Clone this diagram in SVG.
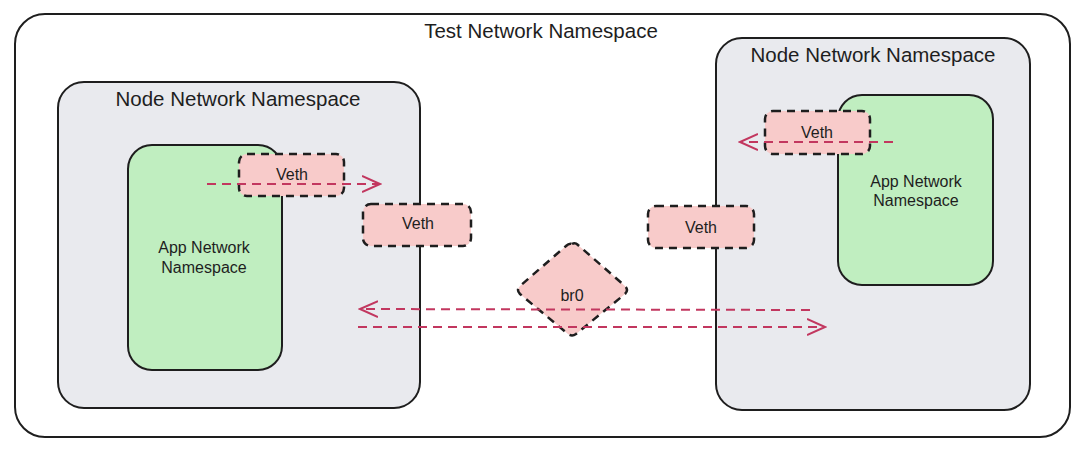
<svg xmlns="http://www.w3.org/2000/svg" width="1080" height="451" viewBox="0 0 1080 451">
<defs>
<style>
.box{stroke:#1e1e1e;stroke-width:2;}
.ns{fill:#e9eaee;}
.app{fill:#c0eec0;}
.veth{fill:#f8cbca;stroke:#1e1e1e;stroke-width:2.5;stroke-dasharray:8 6;}
.t{font-family:"Liberation Sans",Arial,sans-serif;fill:#1e1e1e;text-anchor:middle;}
.big{font-size:20.5px;}
.mid{font-size:16px;}
.conn{fill:none;stroke:#c2375f;stroke-width:2;stroke-dasharray:9 6;}
</style>
<marker id="ah" viewBox="0 0 20 20" refX="18" refY="10" markerWidth="20" markerHeight="20" markerUnits="userSpaceOnUse" orient="auto">
<path d="M0,2 L18,10 L0,18" fill="none" stroke="#c2375f" stroke-width="2" stroke-dasharray="none"/>
</marker>
</defs>
<rect width="1080" height="451" fill="#ffffff"/>
<g id="test-ns">
<rect class="box" x="15" y="14" width="1055" height="423" rx="30" fill="#ffffff"/>
<text class="t big" x="541" y="38">Test Network Namespace</text>
</g>
<g id="node-ns-left">
<rect class="box ns" x="58" y="82" width="362" height="326" rx="26"/>
<text class="t big" x="238" y="106">Node Network Namespace</text>
</g>
<g id="node-ns-right">
<rect class="box ns" x="716" y="38" width="314" height="372" rx="26"/>
<text class="t big" x="873" y="62">Node Network Namespace</text>
</g>
<g id="app-ns-left">
<rect class="box app" x="128" y="145" width="154" height="225" rx="24"/>
<text class="t mid" x="204" y="253">App Network</text>
<text class="t mid" x="204" y="273">Namespace</text>
</g>
<g id="app-ns-right">
<rect class="box app" x="838" y="95" width="155" height="190" rx="24"/>
<text class="t mid" x="916" y="187">App Network</text>
<text class="t mid" x="916" y="206">Namespace</text>
</g>
<g id="veth-app-left">
<rect class="veth" x="239" y="154" width="105" height="42" rx="8"/>
<text class="t mid" x="292" y="180">Veth</text>
</g>
<g id="veth-node-left">
<rect class="veth" x="363" y="204" width="108" height="42" rx="8"/>
<text class="t mid" x="418" y="229">Veth</text>
</g>
<g id="veth-node-right">
<rect class="veth" x="648" y="206" width="106" height="42" rx="8"/>
<text class="t mid" x="701" y="233">Veth</text>
</g>
<g id="veth-app-right">
<rect class="veth" x="765" y="111" width="105" height="43" rx="8"/>
<text class="t mid" x="817" y="138">Veth</text>
</g>
<g id="br0">
<path class="veth" d="M572,244 Q575,242 578,245 L625,286 Q629,290 625,294 L576,334 Q572,337 568,334 L520,294 Q516,290 520,286 L566,246 Q569,243 572,244 Z"/>
<text class="t mid" x="572" y="301">br0</text>
</g>
<g id="connectors">
<path class="conn" d="M207,184 L380,184" marker-end="url(#ah)"/>
<path class="conn" d="M893,142 L740,142" marker-end="url(#ah)"/>
<path class="conn" d="M810,310 L360,309" marker-end="url(#ah)"/>
<path class="conn" d="M358,327 L825,327" marker-end="url(#ah)"/>
</g>
</svg>
